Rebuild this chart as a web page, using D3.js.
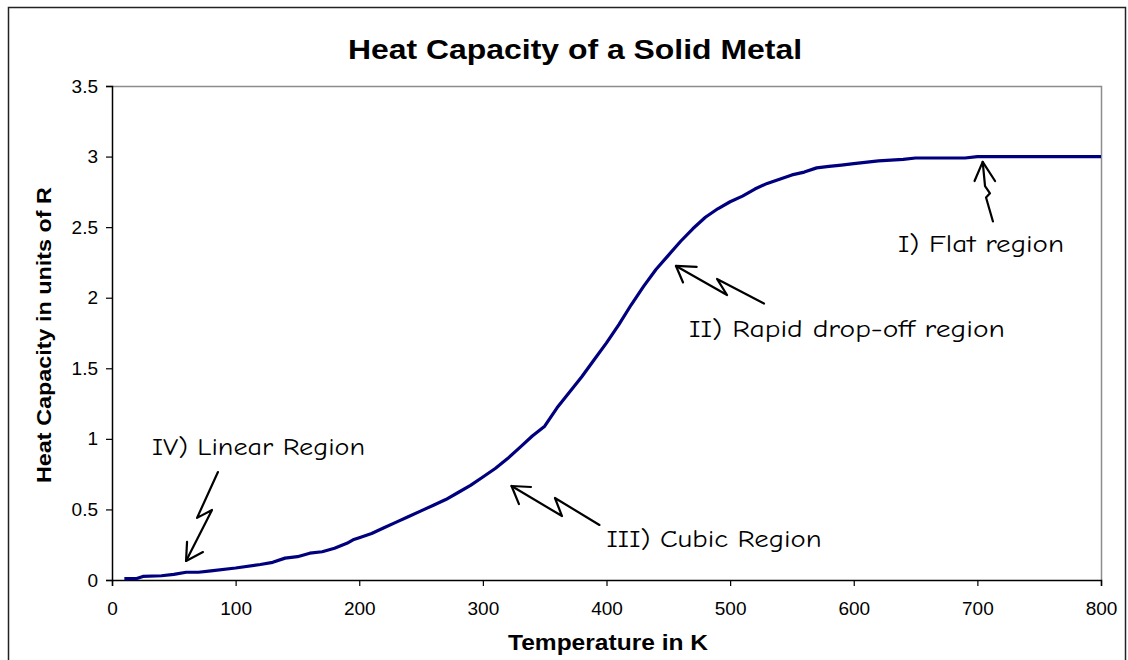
<!DOCTYPE html>
<html>
<head>
<meta charset="utf-8">
<script src="https://cdn.jsdelivr.net/npm/d3@7"></script>
<style>
  html, body { margin: 0; padding: 0; background: #fff; }
  svg { display: block; }
</style>
</head>
<body>
<div id="chart"></div>
<script>
// temperature (K) and heat capacity (units of R)
const temps = [10, 20, 25, 40, 50, 60, 70, 80, 100, 120, 130, 140, 150, 160, 170, 180, 190, 195,
  200, 210, 220, 230, 240, 250, 260, 270, 280, 290, 300, 310, 320, 330, 340, 350, 360, 370, 380,
  390, 400, 410, 420, 430, 440, 450, 460, 470, 480, 490, 500, 510, 520, 530, 540, 550, 560, 570,
  580, 590, 600, 620, 640, 650, 690, 700, 800];
const heatCap = [0.01, 0.01, 0.025, 0.03, 0.04, 0.055, 0.055, 0.065, 0.085, 0.11, 0.125, 0.155,
  0.165, 0.19, 0.2, 0.225, 0.26, 0.285, 0.3, 0.33, 0.37, 0.41, 0.45, 0.49, 0.53, 0.57, 0.62, 0.67,
  0.73, 0.79, 0.86, 0.94, 1.02, 1.09, 1.22, 1.33, 1.44, 1.56, 1.68, 1.81, 1.95, 2.08, 2.2, 2.3,
  2.4, 2.49, 2.57, 2.63, 2.68, 2.72, 2.77, 2.81, 2.84, 2.87, 2.89, 2.92, 2.93, 2.94, 2.95, 2.97,
  2.98, 2.99, 2.99, 3.0, 3.0];

const xTicks = [0, 100, 200, 300, 400, 500, 600, 700, 800];
const yTicks = [0, 0.5, 1, 1.5, 2, 2.5, 3, 3.5];

// hand-drawn callouts, in data units: label anchor + bolt path + arrowhead wings
const notes = [
  { text: 'IV) Linear Region', at: [32.4, 0.886], len: 213,
    bolt: [[85.7, 0.765], [68.8, 0.44], [80.9, 0.496], [59.9, 0.135]],
    wings: [[60.7, 0.27], [59.9, 0.135], [73.6, 0.198]] },
  { text: 'III) Cubic Region', at: [400.1, 0.234], len: 215,
    bolt: [[394.3, 0.39], [358.3, 0.581], [364, 0.453], [323.2, 0.666]],
    wings: [[329.2, 0.538], [323.2, 0.666], [338.9, 0.659]] },
  { text: 'II) Rapid drop-off region', at: [466.7, 1.722], len: 316,
    bolt: [[527.4, 1.959], [489.4, 2.133], [497.5, 2.019], [456.2, 2.225]],
    wings: [[461.9, 2.108], [456.2, 2.225], [472.9, 2.218]] },
  { text: 'I) Flat region', at: [635.8, 2.324], len: 166,
    bolt: [[712.6, 2.54], [707, 2.71], [710.2, 2.74], [706.2, 2.79], [704.3, 2.962]],
    wings: [[697.7, 2.827], [704.3, 2.962], [714.3, 2.827]] },
];

const W = 1128, H = 660;
const plot = { left: 112, right: 1101, top: 86, bottom: 580 };

const svg = d3.select('#chart').append('svg')
  .attr('width', W).attr('height', H)
  .style('background', '#fff');

// outer frame of the chart object
svg.append('rect')
  .attr('x', 8.5).attr('y', 7.5).attr('width', 1117).attr('height', 700)
  .attr('fill', 'none').attr('stroke', '#222').attr('stroke-width', 1.5);

const x = d3.scaleLinear().domain([0, 800]).range([plot.left, plot.right]);
const y = d3.scaleLinear().domain([0, 3.5]).range([plot.bottom, plot.top]);

// gray top/right edges of the plot area
svg.append('path')
  .attr('d', `M${plot.left},${plot.top + 0.5}H${plot.right + 0.5}V${plot.bottom}`)
  .attr('fill', 'none').attr('stroke', '#8c8c8c').attr('stroke-width', 1.5);

const sans = '"Liberation Sans", Arial, sans-serif';

const xAxis = svg.append('g')
  .attr('transform', `translate(0,${plot.bottom})`)
  .call(d3.axisBottom(x).tickValues(xTicks).tickSize(6).tickPadding(16).tickFormat(d3.format('d')));
const yAxis = svg.append('g')
  .attr('transform', `translate(${plot.left},0)`)
  .call(d3.axisLeft(y).tickValues(yTicks).tickSize(6).tickPadding(8).tickFormat(d => String(d)));

[xAxis, yAxis].forEach(g => {
  g.select('.domain').attr('stroke', '#000').attr('stroke-width', 1.5);
  g.selectAll('.tick line').attr('stroke', '#000').attr('stroke-width', 1.2);
  g.selectAll('.tick text').attr('fill', '#000')
    .style('font-family', sans).style('font-size', '19px');
});

// the curve
const line = d3.line().x((d, i) => x(temps[i])).y(d => y(d));
svg.append('path')
  .datum(heatCap)
  .attr('d', line)
  .attr('fill', 'none')
  .attr('stroke', '#00007f')
  .attr('stroke-width', 3.2)
  .attr('stroke-linejoin', 'round');

// titles (the original fonts run wider than Liberation, so stretch to width)
svg.append('text')
  .attr('x', 575).attr('y', 59)
  .attr('text-anchor', 'middle')
  .attr('textLength', 454).attr('lengthAdjust', 'spacingAndGlyphs')
  .style('font-family', sans).style('font-weight', 'bold').style('font-size', '27px')
  .text('Heat Capacity of a Solid Metal');

svg.append('text')
  .attr('x', 608).attr('y', 650)
  .attr('text-anchor', 'middle')
  .attr('textLength', 200).attr('lengthAdjust', 'spacingAndGlyphs')
  .style('font-family', sans).style('font-weight', 'bold').style('font-size', '22px')
  .text('Temperature in K');

svg.append('text')
  .attr('transform', `translate(51,${(plot.top + plot.bottom) / 2 + 2}) rotate(-90)`)
  .attr('text-anchor', 'middle')
  .attr('textLength', 296).attr('lengthAdjust', 'spacingAndGlyphs')
  .style('font-family', sans).style('font-weight', 'bold').style('font-size', '21px')
  .text('Heat Capacity in units of R');

// callouts
const ptLine = d3.line().x(d => x(d[0])).y(d => y(d[1]));
const ann = svg.append('g').attr('class', 'notes');
notes.forEach(n => {
  ann.append('path').attr('d', ptLine(n.bolt))
    .attr('fill', 'none').attr('stroke', '#000').attr('stroke-width', 2.2)
    .attr('stroke-linejoin', 'round').attr('stroke-linecap', 'round');
  ann.append('path').attr('d', ptLine(n.wings))
    .attr('fill', 'none').attr('stroke', '#000').attr('stroke-width', 2.2)
    .attr('stroke-linejoin', 'round').attr('stroke-linecap', 'round');
  ann.append('text')
    .attr('x', x(n.at[0])).attr('y', y(n.at[1]))
    .attr('textLength', n.len).attr('lengthAdjust', 'spacingAndGlyphs')
    .style('font-family', '"Comic Sans MS", "Comic Neue", "DejaVu Sans", sans-serif')
    .style('font-size', '24px')
    .text(n.text);
});
</script>
</body>
</html>
